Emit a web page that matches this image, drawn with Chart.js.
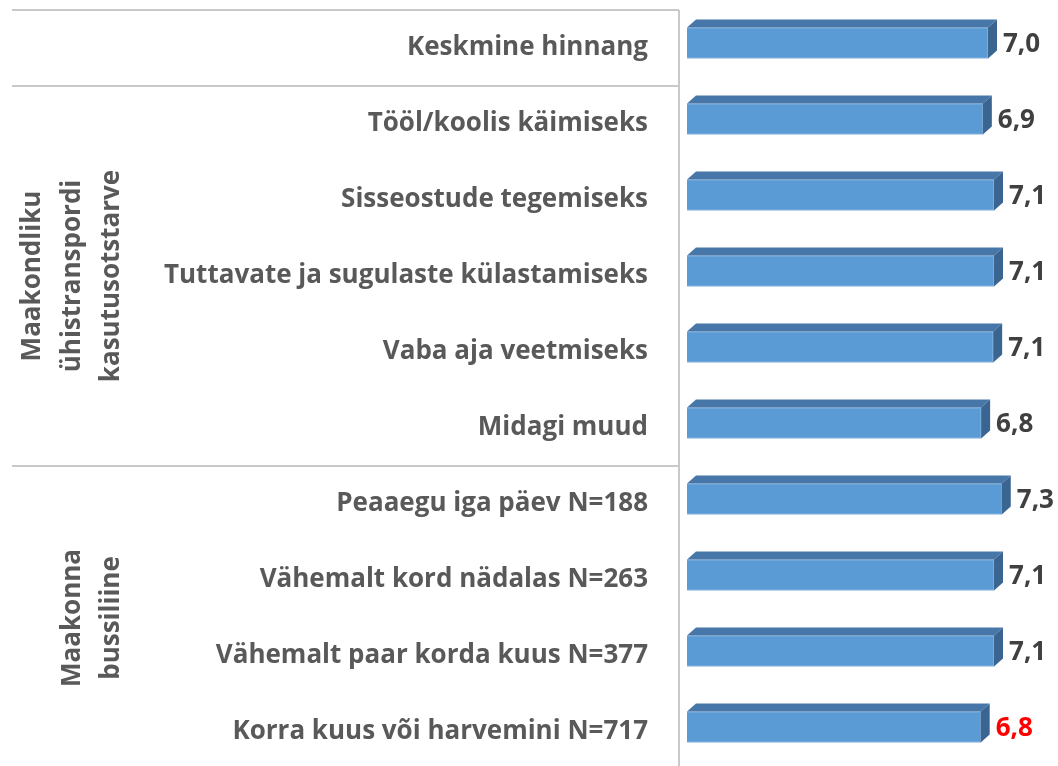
<!DOCTYPE html>
<html>
<head>
<meta charset="utf-8">
<script src="https://cdn.jsdelivr.net/npm/chart.js@4/dist/chart.umd.min.js"></script>
<style>
  html, body { margin: 0; padding: 0; overflow: hidden; background: #fff; }
  #wrap { position: absolute; left: 0; top: 0; width: 1058px; height: 772px; }
</style>
</head>
<body>
<div id="wrap"><canvas id="ChartCanvas"></canvas></div>
<script>
const categories = [
  'Keskmine hinnang',
  'Tööl/koolis käimiseks',
  'Sisseostude tegemiseks',
  'Tuttavate ja sugulaste külastamiseks',
  'Vaba aja veetmiseks',
  'Midagi muud',
  'Peaaegu iga päev N=188',
  'Vähemalt kord nädalas N=263',
  'Vähemalt paar korda kuus N=377',
  'Korra kuus või harvemini N=717'
];
const values = [7.0, 6.88, 7.14, 7.14, 7.12, 6.84, 7.32, 7.14, 7.14, 6.83];

// group labels on the left (first and last category index of each group)
const groupNames = [
  ['Maakondliku', 'ühistranspordi', 'kasutusotstarve'],
  ['Maakonna', 'bussiliine']
];
const groupFirst = [1, 6];
const groupLast = [5, 9];
const separatorsBefore = [0, 1, 6];
const redLabel = 9;

const FONT = "'Open Sans', 'DejaVu Sans', sans-serif";
const DX = 9, DY = 8, SHIFT = -5;

const bar3d = {
  id: 'bar3d',
  beforeDatasetsDraw(chart) {
    chart.ctx.save();
    chart.ctx.translate(0, SHIFT);
  },
  afterDatasetsDraw(chart) {
    const ctx = chart.ctx;
    const meta = chart.getDatasetMeta(0);
    meta.data.forEach((el, i) => {
      const p = el.getProps(['x', 'y', 'base', 'height'], true);
      const t = p.y - p.height / 2, b = p.y + p.height / 2;
      // top face
      ctx.fillStyle = '#4677A8';
      ctx.beginPath();
      ctx.moveTo(p.base, t);
      ctx.lineTo(p.base + DX, t - DY);
      ctx.lineTo(p.x + DX, t - DY);
      ctx.lineTo(p.x, t);
      ctx.closePath();
      ctx.fill();
      // side face
      ctx.fillStyle = '#3B6591';
      ctx.beginPath();
      ctx.moveTo(p.x, t);
      ctx.lineTo(p.x + DX, t - DY);
      ctx.lineTo(p.x + DX, b - DY);
      ctx.lineTo(p.x, b);
      ctx.closePath();
      ctx.fill();
      // value label
      ctx.font = 'bold 26px ' + FONT;
      ctx.fillStyle = i === redLabel ? '#FF0000' : '#404040';
      ctx.textAlign = 'left';
      ctx.textBaseline = 'middle';
      ctx.fillText(values[i].toFixed(1).replace('.', ','), p.x + 15, p.y + 2);
    });
    ctx.restore();
  },
  afterDraw(chart) {
    const ctx = chart.ctx;
    const y = chart.scales.y;
    const area = chart.chartArea;
    const axisX = area.left - 8;
    const edge = i => i <= 0 ? area.top :
      (i >= categories.length ? area.bottom : (y.getPixelForValue(i - 1) + y.getPixelForValue(i)) / 2);
    ctx.save();
    ctx.strokeStyle = '#C9C9C9';
    ctx.lineWidth = 2;
    ctx.beginPath();
    ctx.moveTo(axisX, area.top);
    ctx.lineTo(axisX, area.bottom);
    separatorsBefore.forEach(i => {
      const yy = Math.round(edge(i));
      ctx.moveTo(12, yy);
      ctx.lineTo(axisX, yy);
    });
    ctx.stroke();

    ctx.font = 'bold 26px ' + FONT;
    ctx.fillStyle = '#595959';
    ctx.textAlign = 'center';
    ctx.textBaseline = 'middle';
    groupNames.forEach((lines, g) => {
      const cy = (edge(groupFirst[g]) + edge(groupLast[g] + 1)) / 2;
      lines.forEach((txt, k) => {
        const cx = 112 - (lines.length - 1 - k) * 39.5;
        ctx.save();
        ctx.translate(cx, cy);
        ctx.rotate(-Math.PI / 2);
        ctx.fillText(txt, 0, 0);
        ctx.restore();
      });
    });
    ctx.restore();
  }
};

new Chart(document.getElementById('ChartCanvas'), {
  type: 'bar',
  data: {
    labels: categories,
    datasets: [{
      data: values,
      backgroundColor: '#5B9BD5',
      borderColor: '#8DB6DF',
      borderWidth: 1,
      barThickness: 31
    }]
  },
  options: {
    indexAxis: 'y',
    responsive: true,
    maintainAspectRatio: false,
    animation: false,
    layout: { padding: { top: 10, bottom: 2, right: 27, left: 0 } },
    plugins: { legend: { display: false }, tooltip: { enabled: false } },
    scales: {
      x: { display: false, min: 0, max: 8 },
      y: {
        grid: { display: false, drawTicks: false },
        border: { display: false },
        ticks: {
          color: '#595959',
          font: { family: FONT, size: 26, weight: 'bold' },
          padding: 39,
          autoSkip: false
        },
        afterFit(s) {
          s.width = 687;
          s.paddingTop = 0;
          s.paddingBottom = 0;
        }
      }
    }
  },
  plugins: [bar3d]
});
</script>
</body>
</html>
